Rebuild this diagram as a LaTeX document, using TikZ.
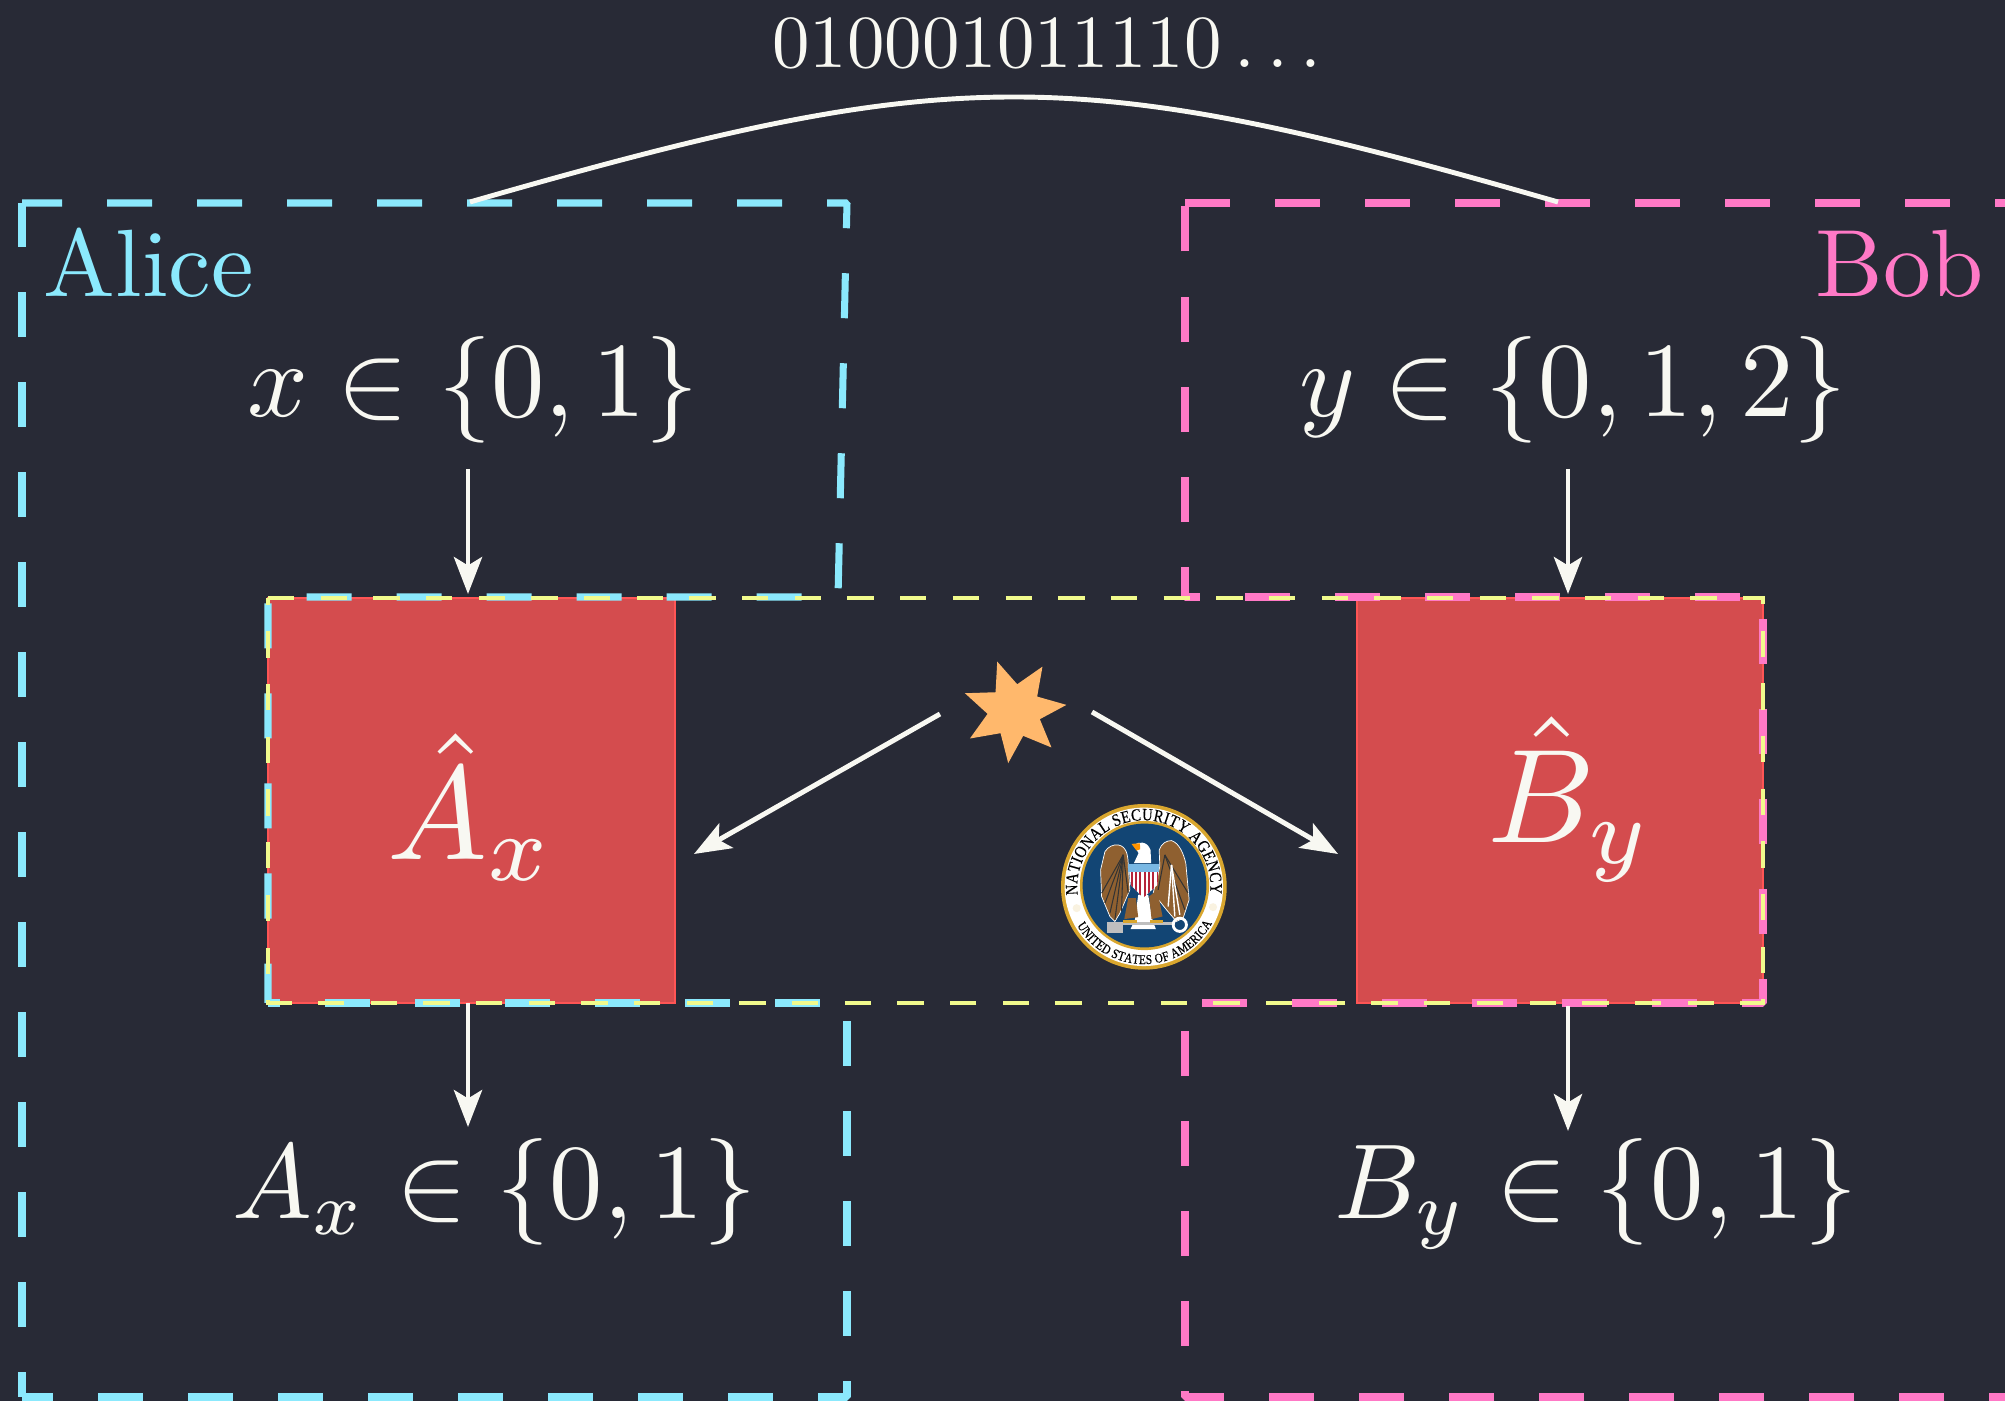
\documentclass[tikz,border=0pt]{standalone}
\usepackage[no-math]{fontspec}
\usepackage{amsmath}
\usepackage{amssymb}
\usepackage{xcolor}
\usetikzlibrary{arrows.meta, decorations.text}
\newfontfamily\sealfont[FakeStretch=0.85, FakeBold=0.3]{Liberation Serif}
\definecolor{bgdark}{HTML}{282A36}
\definecolor{fgwhite}{HTML}{F8F8F2}
\definecolor{alicecol}{HTML}{8BE9FD}
\definecolor{bobcol}{HTML}{FF79C6}
\definecolor{yellowcol}{HTML}{F1FA8C}
\definecolor{redcol}{HTML}{FF5555}
\definecolor{starcol}{HTML}{FFB86C}
\definecolor{sealblue}{HTML}{124574}
\definecolor{sealgold}{HTML}{D9A62E}
\definecolor{sealbrown}{HTML}{8F6030}
\definecolor{sealsky}{HTML}{79B8E4}
\definecolor{sealred}{HTML}{B5243A}
\tikzset{
    partybox/.style={line width=2pt, dash pattern=on 12.8pt off 12.8pt, line join=bevel},
    sharedbox/.style={yellowcol, line width=1.3pt, dash pattern=on 7.49pt off 7.49pt},
    redbox/.style={draw=redcol, line width=0.6pt, fill=redcol, fill opacity=0.8, minimum width=4.06cm, minimum height=4.05cm, inner sep=0pt},
    arrowline/.style={fgwhite, line width=1.4pt, -{Stealth[length=10.5pt, width=8pt, inset=2.4pt]}},
    nametext/.style={inner sep=0pt, scale=2.72},
    midtext/.style={fgwhite, anchor=base, scale=3.03},
    bigtext/.style={fgwhite, anchor=base, scale=3.8},
}

\begin{document}
\begin{tikzpicture}[x=0.01cm, y=-0.01cm]
    \useasboundingbox (0,0) rectangle (2005,1401);
    \clip (0,0) rectangle (2005,1401);
    \fill[bgdark] (0,0) rectangle (2005,1401);

    % Measurement boxes
    \node[redbox] (aliceBox) at (471.5,800.5) {};
    \node[redbox] (bobBox) at (1560,800.5) {};

    % Labs, wrapped round the shared region
    \draw[partybox, alicecol, dash phase=1.42pt] (22,203) -- (847,203) -- (838,597) -- (268,597) -- (268,1003);
    \draw[partybox, alicecol, dash phase=9.39pt] (268,1003) -- (847,1003) -- (847,1397) -- (22,1397);
    \draw[partybox, alicecol, dash phase=5.69pt] (22,1397) -- (22,203);
    \draw[partybox, bobcol, dash phase=0pt] (1185,203) -- (2048,203) -- (2048,1397) -- (1185,1397) -- (1185,1003) -- (1763,1003) -- (1763,597) -- (1185,597) -- cycle;
    \draw[sharedbox] (268,598) -- (1763,598) -- (1763,1003) -- (268,1003) -- cycle;

    % Labels
    \node[nametext, alicecol, anchor=base west] (aliceName) at (42,297) {Alice};
    \node[nametext, bobcol, anchor=base east] (bobName) at (1986,297) {Bob};
    \node[midtext] (xIn) at (473,417) {$x \in \{0,1\}$};
    \node[midtext] (yIn) at (1573,417) {$y \in \{0,1,2\}$};
    \node[midtext] (aOut) at (495,1219) {$A_x \in \{0,1\}$};
    \node[midtext] (bOut) at (1596,1219) {$B_y \in \{0,1\}$};
    \node[bigtext] (aHat) at (471,860) {$\hat{A}_x$};
    \node[bigtext] (bHat) at (1570,843) {$\hat{B}_y$};
    \node[fgwhite, anchor=base, scale=2.13] (bits) at (1047,68) {$010001011110\ldots$};

    % Ends of the arrows
    \coordinate (xTail) at (468,469);
    \coordinate (xHead) at (468,594);
    \coordinate (yTail) at (1568,469);
    \coordinate (yHead) at (1568,594);
    \coordinate (aTail) at (468,1003);
    \coordinate (aHead) at (468,1127);
    \coordinate (bTail) at (1568,1006);
    \coordinate (bHead) at (1568,1131);
    \coordinate (starLeft) at (940,714);
    \coordinate (starRight) at (1092,712);
    \coordinate (leftHead) at (694,854);
    \coordinate (rightHead) at (1338,854);
    \coordinate (aliceTop) at (470,202);
    \coordinate (bobTop) at (1558,202);

    \draw[arrowline] (xTail) -- (xHead);
    \draw[arrowline] (yTail) -- (yHead);
    \draw[arrowline] (aTail) -- (aHead);
    \draw[arrowline] (bTail) -- (bHead);
    \draw[arrowline] (starLeft) -- (leftHead);
    \draw[arrowline] (starRight) -- (rightHead);

    % Classical channel
    \draw[fgwhite, line width=1.4pt] (aliceTop) .. controls (956,62) and (1072,62) .. (bobTop);

    % Source
    \begin{scope}[shift={(930,640)}, x=0.00333cm, y=-0.00333cm]
        \fill[starcol] (202,65) -- (262,133) -- (338,80) -- (322,170) -- (410,195) -- (330,238) -- (365,323) -- (280,288) -- (235,370) -- (212,280) -- (120,296) -- (173,222) -- (105,160) -- (197,157) -- cycle;
    \end{scope}

    % Seal
    \begin{scope}[shift={(1060,800)}, x=0.00333cm, y=-0.00333cm]
        \fill[sealgold] (252,261) circle[radius=249];
        \fill[white] (252,261) circle[radius=238];
        \fill[sealgold] (254,257) circle[radius=194];
        \fill[sealblue] (254,257) circle[radius=186];
        \fill[white!85!sealgold] (50,325) circle[radius=12];
        \fill[white!85!sealgold] (460,322) circle[radius=12];
        % Wings
        \fill[sealbrown, draw=white, line width=0.2pt] (175,135) .. controls (200,140) and (205,165) .. (205,200) -- (210,270) -- (180,340) -- (165,365) -- (150,350) -- (125,290) -- (122,210) -- (135,155) .. controls (145,140) and (160,133) .. (175,135) -- cycle;
        \fill[sealbrown, draw=white, line width=0.2pt] (335,122) .. controls (360,130) and (372,165) .. (378,190) -- (388,300) -- (370,355) -- (350,365) -- (320,330) -- (280,280) -- (300,200) -- (298,150) .. controls (305,130) and (320,122) .. (335,122) -- cycle;
        \foreach \a/\b in {125/280, 135/310, 150/340, 165/360, 185/335, 205/280} {
            \draw[black!80, line width=0.3pt] (190,165) -- (\a,\b);
        }
        \foreach \a/\b in {385/280, 375/330, 295/270} {
            \draw[black!80, line width=0.3pt] (315,165) -- (\a,\b);
        }
        \foreach \a/\b in {325/320, 345/350, 360/345} {
            \draw[white, line width=0.4pt] (335,195) -- (\a,\b);
        }
        % Head
        \fill[white] (222,135) .. controls (235,125) and (262,122) .. (272,150) -- (274,190) -- (222,190) -- (236,160) -- cycle;
        \fill[orange!85!yellow] (215,132) -- (240,130) -- (241,148) -- (230,152) -- cycle;
        % Body and legs
        \fill[white] (235,285) -- (265,285) -- (278,360) -- (288,388) -- (212,388) -- (225,360) -- cycle;
        \fill[sealbrown] (205,295) -- (228,295) -- (235,352) -- (193,358) -- cycle;
        \fill[sealbrown] (268,290) -- (292,270) -- (308,350) -- (275,358) -- cycle;
        % Shield
        \fill[white] (208,216) -- (296,216) -- (293,255) -- (250,294) -- (212,255) -- cycle;
        \begin{scope}
            \clip (208,216) -- (296,216) -- (293,255) -- (250,294) -- (212,255) -- cycle;
            \foreach \i in {0,...,6} {
                \fill[sealred] (212+\i*13,216) rectangle (218+\i*13,294);
            }
        \end{scope}
        \fill[sealsky] (203,193) rectangle (298,216);
        % Key
        \fill[gray!50] (140,366) rectangle (345,376);
        \fill[gray!50] (142,376) rectangle (188,400);
        \draw[white, line width=0.8pt] (360,375) circle[radius=20];
        \draw[sealgold, line width=0.6pt] (190,365) -- (230,365);
        \draw[sealgold, line width=0.6pt] (270,365) -- (310,365);
        % Lettering
        \begin{scope}[shift={(252,261)}]
            \path[decorate, decoration={text along path, text align={fit to path},
                text={|\sealfont\fontsize{4.9}{6}\selectfont\color{black}|NATIONAL SECURITY AGENCY}}]
                (173:200) arc[start angle=173, end angle=366, radius=200];
            \path[decorate, decoration={text along path, text align={fit to path},
                text={|\sealfont\fontsize{3.8}{4}\selectfont\color{black}|UNITED STATES OF AMERICA}}]
                (150:232) arc[start angle=150, end angle=28, radius=232];
        \end{scope}
    \end{scope}
\end{tikzpicture}
\end{document}
